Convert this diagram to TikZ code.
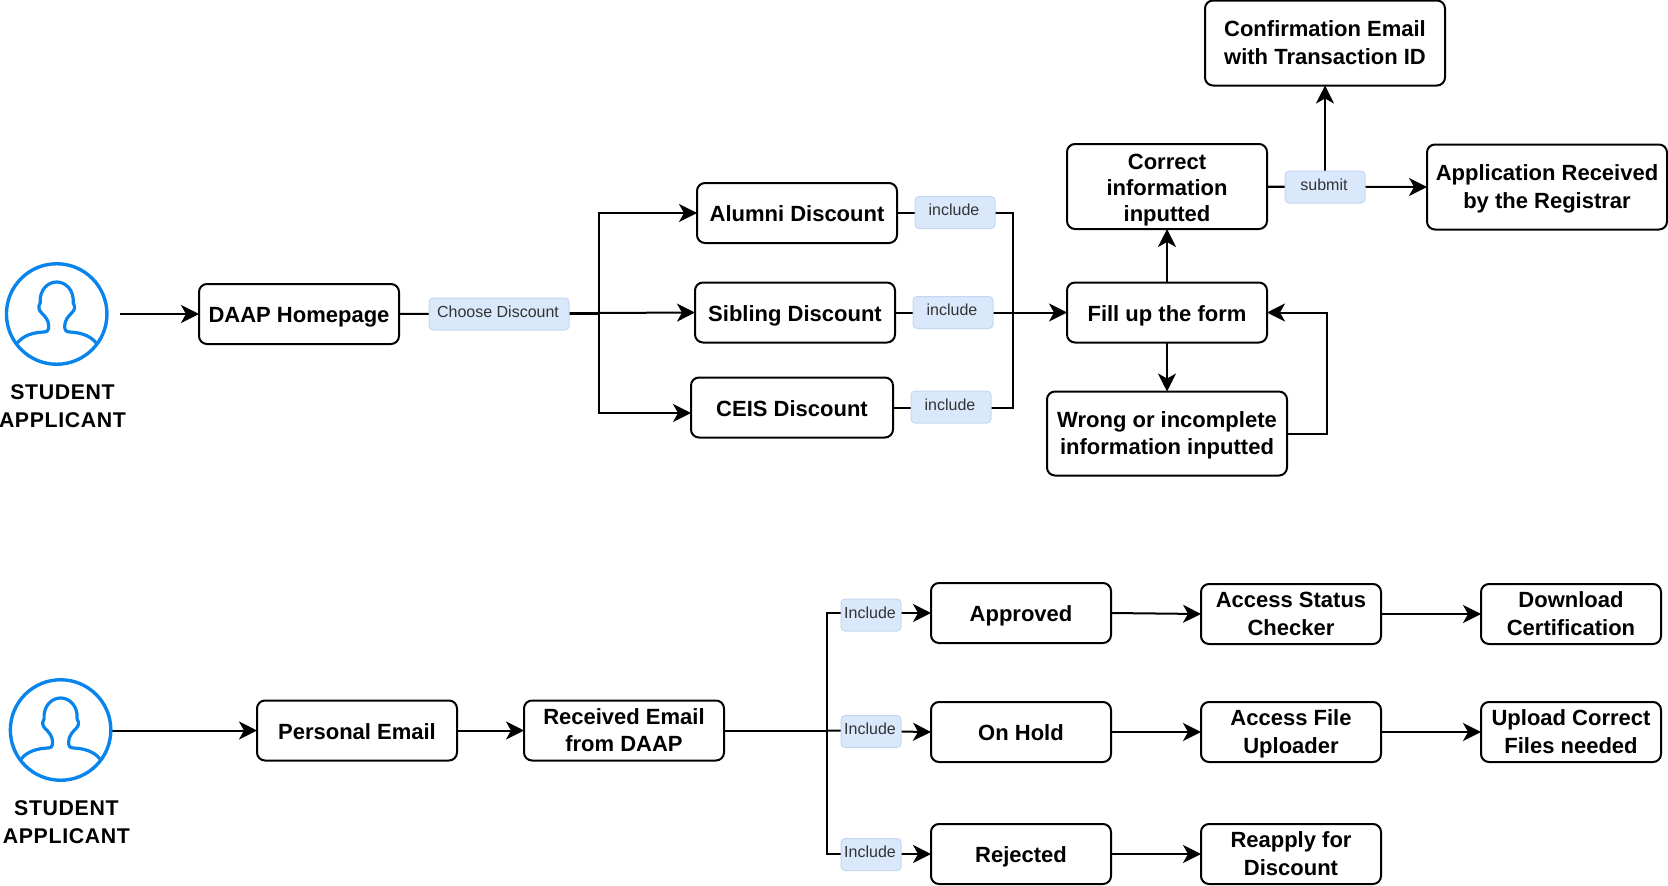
\documentclass[tikz,border=0pt]{standalone}
\usepackage{fontspec}
\setmainfont{Liberation Sans}
\newfontfamily\spacedbold[LetterSpace=3]{Liberation Sans}
\usetikzlibrary{arrows.meta,backgrounds,calc}
\definecolor{iconblue}{HTML}{0984EC}
\definecolor{tagfill}{HTML}{DAE8FC}
\definecolor{tagline}{HTML}{C5D7F0}
\definecolor{tagtext}{HTML}{333333}
\newcommand\firstline{\rule{0pt}{20pt}}
\tikzset{
  box/.style 2 args={draw=black,line width=2pt,rounded corners=8pt,fill=white,inner sep=0pt,outer sep=0pt,
    minimum width=#1pt,minimum height=#2pt,align=center,
    execute at begin node={\rule{0pt}{22pt}},execute at end node={\rule[-5pt]{0pt}{5pt}},
    font=\fontsize{22}{27.4}\selectfont\bfseries},
  tag/.style 2 args={draw=tagline,line width=1pt,rounded corners=4pt,fill=tagfill,inner sep=0pt,outer sep=0pt,
    minimum width=#1pt,minimum height=#2pt,text=tagtext,text height=12pt,text depth=5.4pt,
    execute at end node={\hspace*{2pt}},font=\fontsize{16}{18}\selectfont},
  conn/.style={line width=2pt,draw=black,line join=miter},
  arr/.style={conn,-{Stealth[length=18pt,width=18pt,inset=5pt]}},
  actor/.style={align=center,inner sep=0pt,font=\spacedbold\fontsize{21.3}{28.2}\selectfont\bfseries},
  ring/.style={draw=iconblue,line width=3.4pt,circle,inner sep=0pt,minimum size=100.5pt},
  bust/.style={draw=iconblue,line width=3.2pt,line join=round},
  pics/person/.style={code={
    \draw[bust] (-39.5,29) .. controls (-33,21) and (-23,18.5) .. (-13,18)
      .. controls (-9,18) and (-8,16) .. (-8,12)
      .. controls (-8,6) and (-12,2) .. (-15,-1)
      .. controls (-18,-4) and (-19,-7) .. (-16.5,-11)
      .. controls (-17.5,-24) and (-9,-32) .. (0,-32)
      .. controls (9,-32) and (17.5,-24) .. (16.5,-11)
      .. controls (19,-7) and (18,-4) .. (15,-1)
      .. controls (12,2) and (8,6) .. (8,12)
      .. controls (8,16) and (9,18) .. (13,18)
      .. controls (23,18.5) and (33,21) .. (39.5,29);
  }}
}
\begin{document}
\begin{tikzpicture}[x=1pt,y=-1pt]
\useasboundingbox (0,0) rectangle (1668,886);

% top row
\node[ring] (ringA) at (56.7,314) {};
\pic at (56.7,314) {person};
\node[actor] (studentA) at (62.5,406.5) {STUDENT\\APPLICANT};
\coordinate (startA) at (120,314);
\node[box={200}{60}] (daap) at (299,314) {DAAP Homepage};
\node[tag={140}{32}] (choose) at (499,314) {Choose Discount};
\node[box={200}{60}] (alumni) at (797,213) {Alumni Discount};
\node[box={200}{60}] (sibling) at (795,312.5) {Sibling Discount};
\node[box={202}{60}] (ceis) at (792,407.5) {CEIS Discount};
\coordinate (ceisIn) at (691,413);
\node[tag={80}{32}] (incA) at (955,212.5) {include};
\node[tag={80}{32}] (incB) at (953,312.5) {include};
\node[tag={80}{32}] (incC) at (951,407) {include};
\node[box={200}{60}] (fill) at (1167,312.5) {Fill up the form};
\node[box={200}{85}] (correct) at (1167,186.5) {\rule{0pt}{22pt}Correct\\[-1.4pt]information\\[-1.4pt]inputted};
\node[box={240}{84}] (wrong) at (1167,433.5) {\firstline Wrong or incomplete\\information inputted};
\node[box={240}{85}] (conf) at (1325,43) {\firstline Confirmation Email\\with Transaction ID};
\node[box={240}{85}] (appl) at (1547,187) {\firstline Application Received\\by the Registrar};
\node[tag={80}{32}] (submit) at (1325,187) {submit};
\coordinate (hubL) at (599,314);
\coordinate (hubR) at (1013,312.5);
\coordinate (loop) at (1327,434);

% bottom row
\node[ring] (ringB) at (60.6,730) {};
\pic at (60.6,730) {person};
\node[actor] (studentB) at (66.4,822.5) {STUDENT\\APPLICANT};
\coordinate (startB) at (112,730.5);
\node[box={200}{60}] (personal) at (357,730.5) {Personal Email};
\node[box={200}{60}] (received) at (624,730.5) {\firstline Received Email\\from DAAP};
\coordinate (hubB) at (827,730.5);
\node[tag={60}{32}] (inc1) at (871,615) {Include};
\node[tag={60}{32}] (inc2) at (871,731.5) {Include};
\node[tag={60}{32}] (inc3) at (871,854.5) {Include};
\node[box={180}{60}] (approved) at (1021,613) {Approved};
\node[box={180}{60}] (hold) at (1021,732) {On Hold};
\node[box={180}{60}] (rejected) at (1021,854) {Rejected};
\node[box={180}{60}] (status) at (1291,614) {\firstline Access Status\\Checker};
\node[box={180}{60}] (files) at (1291,732) {\firstline Access File\\Uploader};
\node[box={180}{60}] (reapply) at (1291,854) {\firstline Reapply for\\Discount};
\node[box={180}{60}] (download) at (1571,614) {\firstline Download\\Certification};
\node[box={180}{60}] (upload) at (1571,732) {\firstline Upload Correct\\Files needed};

\begin{scope}[on background layer]
\draw[arr] (startA) -- (daap.west);
\draw[arr] (daap.east) -- (hubL) |- (alumni.west);
\draw[arr] (daap.east) -- (sibling.west);
\draw[arr] (hubL) |- (ceisIn);
\draw[conn] (alumni.east) -| (hubR);
\draw[conn] (ceis.east) -| (hubR);
\draw[arr] (sibling.east) -- (fill.west);
\draw[arr] (fill.north) -- (correct.south);
\draw[arr] (fill.south) -- (wrong.north);
\draw[arr] (wrong.east) -- (wrong.east -| loop) |- (fill.east);
\draw[arr] (correct.east) -| (conf.south);
\draw[arr] (correct.east) -- (appl.west);

\draw[arr] (startB) -- (personal.west);
\draw[arr] (personal.east) -- (received.west);
\draw[conn] (received.east) -- (hubB);
\draw[arr] (hubB) |- (approved.west);
\draw[arr] (hubB) -- (hold.west);
\draw[arr] (hubB) |- (rejected.west);
\draw[arr] (approved.east) -- (status.west);
\draw[arr] (hold.east) -- (files.west);
\draw[arr] (rejected.east) -- (reapply.west);
\draw[arr] (status.east) -- (download.west);
\draw[arr] (files.east) -- (upload.west);
\end{scope}
\end{tikzpicture}
\end{document}
